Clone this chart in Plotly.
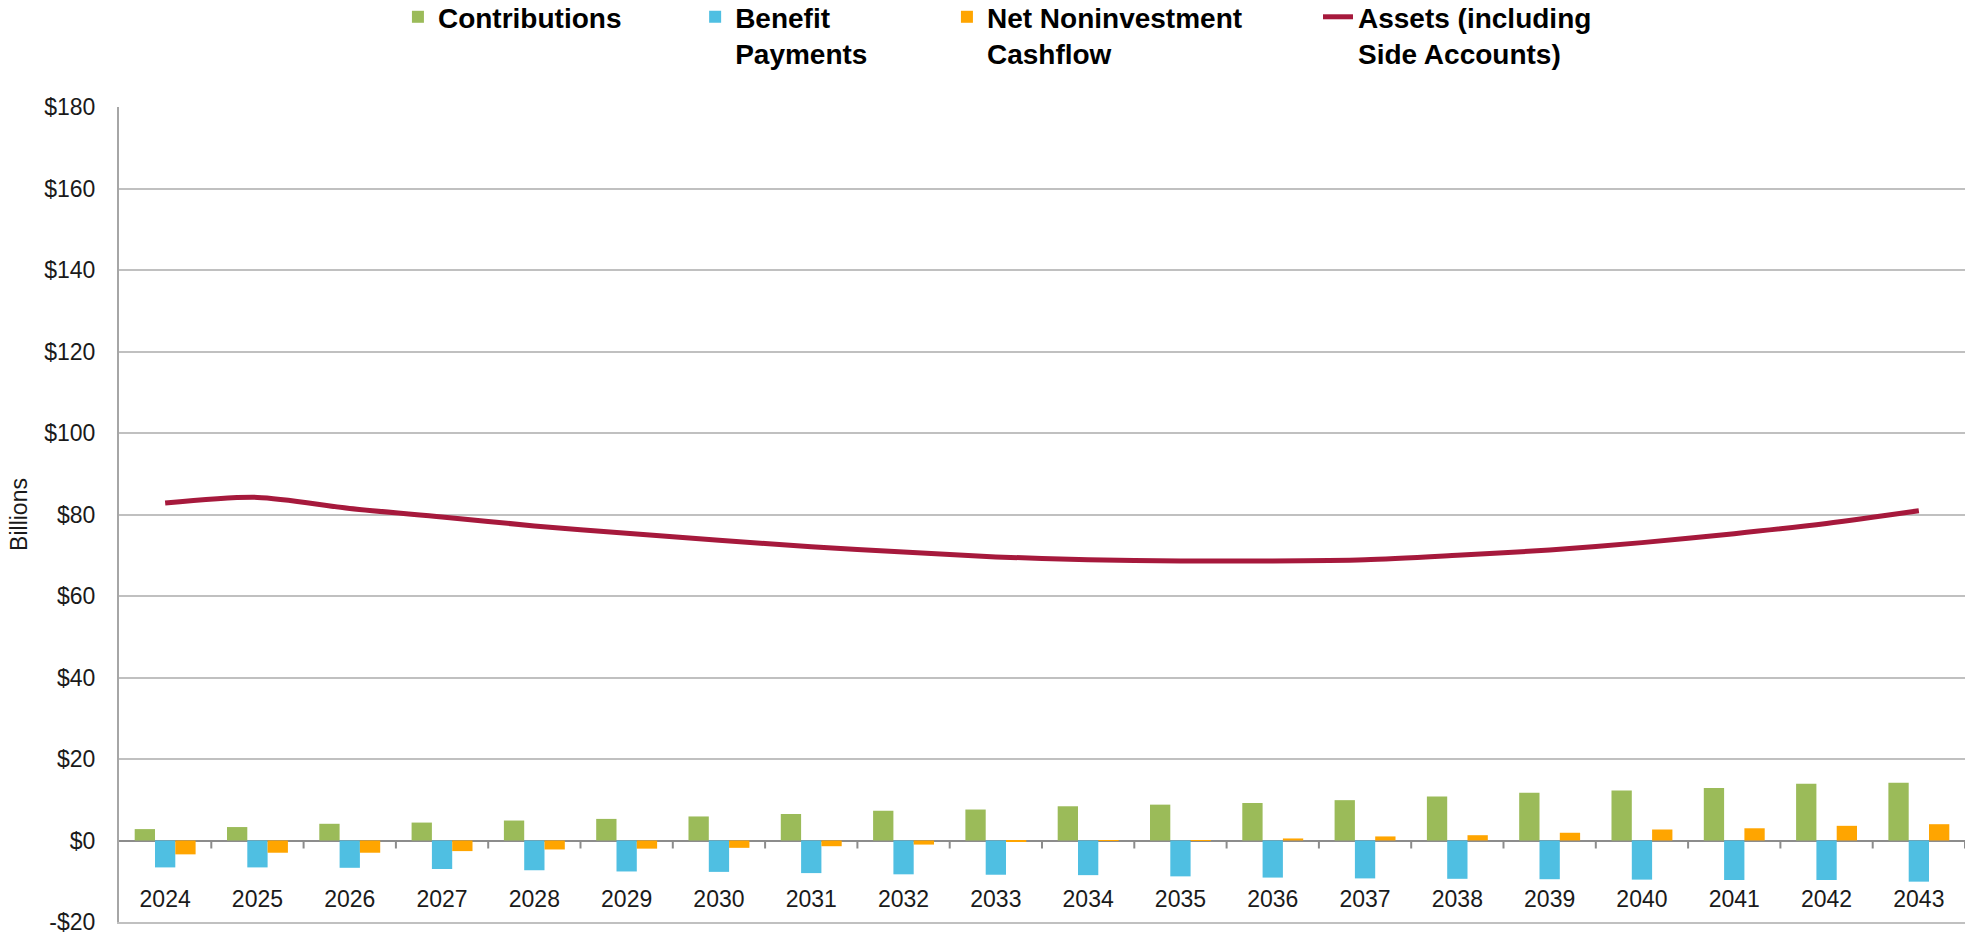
import plotly.graph_objects as go

# Projection years
years = [str(y) for y in range(2024, 2044)]

# Cashflows and assets, $ billions
contributions = [2.8, 3.3, 4.1, 4.4, 4.9, 5.3, 5.9, 6.5, 7.3, 7.6,
                 8.4, 8.8, 9.2, 9.9, 10.8, 11.7, 12.3, 12.9, 13.9, 14.2]
benefit_payments = [-6.6, -6.6, -6.7, -7.0, -7.3, -7.6, -7.7, -8.0, -8.3, -8.4,
                    -8.5, -8.8, -9.1, -9.3, -9.4, -9.5, -9.6, -9.7, -9.7, -10.1]
net_noninvestment = [-3.4, -3.0, -3.0, -2.6, -2.2, -2.0, -1.8, -1.4, -1.0, -0.3,
                     -0.1, 0.1, 0.5, 1.0, 1.3, 1.9, 2.7, 3.0, 3.6, 4.0]
assets = [82.8, 84.2, 81.5, 79.4, 77.2, 75.4, 73.7, 72.1, 70.8, 69.6,
          68.9, 68.6, 68.6, 68.9, 70.0, 71.3, 73.1, 75.3, 77.8, 80.9]

# Y-axis ticks
y_ticks = [-20, 0, 20, 40, 60, 80, 100, 120, 140, 160, 180]
y_tick_labels = ["-$20", "$0", "$20", "$40", "$60", "$80", "$100",
                 "$120", "$140", "$160", "$180"]

FONT = "Liberation Sans, Arial, sans-serif"
GREEN = "#9BBB59"
BLUE = "#4FBFE2"
ORANGE = "#FFA500"
MAROON = "#A6193C"
AXIS_GRAY = "#8c8c8c"
GRID_GRAY = "#c0c0c0"

fig = go.Figure()
fig.add_bar(x=years, y=contributions, name="Contributions",
            marker=dict(color=GREEN, line=dict(width=0)), legend="legend")
fig.add_bar(x=years, y=benefit_payments, name="Benefit<br>Payments",
            marker=dict(color=BLUE, line=dict(width=0)), legend="legend2")
fig.add_bar(x=years, y=net_noninvestment, name="Net Noninvestment<br>Cashflow",
            marker=dict(color=ORANGE, line=dict(width=0)), legend="legend3")
fig.add_scatter(x=years, y=assets, name="Assets (including<br>Side Accounts)",
                mode="lines",
                line=dict(color=MAROON, width=5, shape="spline", smoothing=0.8),
                legend="legend4")
for tr in fig.data:
    tr.showlegend = True

# Short tick marks hanging below the $0 line at each category boundary
for i in range(1, len(years) + 1):
    fig.add_shape(type="line", xref="x", yref="y",
                  x0=i - 0.5, x1=i - 0.5,
                  ysizemode="pixel", yanchor=0, y0=0, y1=-8,
                  line=dict(color=AXIS_GRAY, width=2), layer="above")

legend_style = dict(
    orientation="h", xanchor="left", yanchor="top", y=1.141,
    font=dict(family=FONT, size=28, color="#000000", weight="bold"),
    bgcolor="rgba(0,0,0,0)", borderwidth=0, valign="top", visible=True,
)

fig.update_layout(
    width=1967, height=934,
    margin=dict(l=119, r=2, t=107, b=12, autoexpand=False),
    paper_bgcolor="white", plot_bgcolor="white",
    showlegend=True,
    barmode="group", bargap=0.34, bargroupgap=0,
    font=dict(family=FONT, color="#1a1a1a"),
    legend=dict(x=0.1511, **legend_style),
    legend2=dict(x=0.3121, **legend_style),
    legend3=dict(x=0.4485, **legend_style),
    legend4=dict(x=0.6495, **legend_style),
    xaxis=dict(
        type="category", range=[-0.5, len(years) - 0.5],
        automargin=False,
        showline=True, linecolor=GRID_GRAY, linewidth=2,
        ticks="", ticklabelposition="inside", ticklabelstandoff=12,
        ticklabeloverflow="allow",
        tickfont=dict(family=FONT, size=23, color="#1a1a1a"),
        showgrid=False, zeroline=False,
    ),
    yaxis=dict(
        range=[-20, 180], tickvals=y_ticks, ticktext=y_tick_labels,
        automargin=False, ticklabeloverflow="allow",
        showgrid=True, gridcolor=GRID_GRAY, gridwidth=2,
        showline=True, linecolor="#a6a6a6", linewidth=2,
        zeroline=True, zerolinecolor=AXIS_GRAY, zerolinewidth=2,
        ticks="", ticklabelstandoff=17,
        tickfont=dict(family=FONT, size=23, color="#1a1a1a"),
        title=dict(text="Billions", standoff=10,
                   font=dict(family=FONT, size=23, color="#1a1a1a")),
    ),
)

fig.write_html("out.html")
